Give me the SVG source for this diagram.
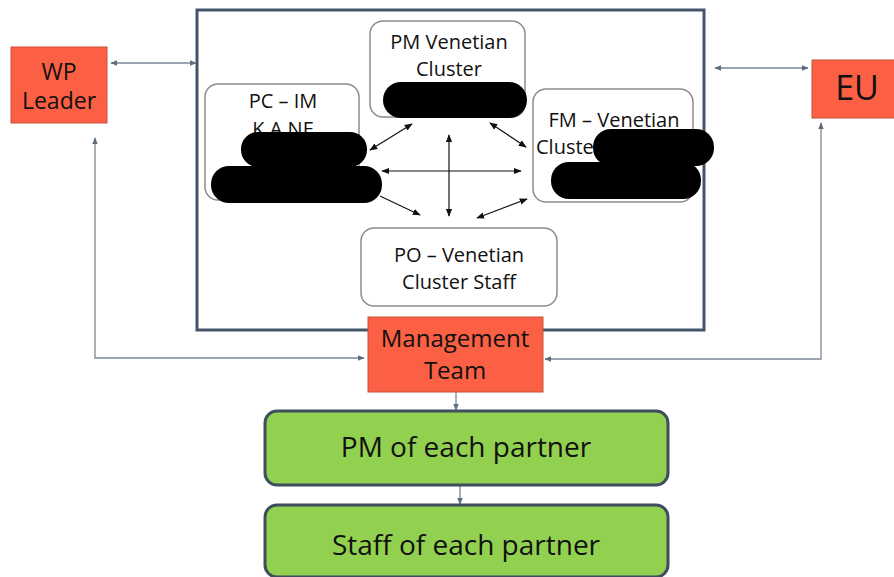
<svg xmlns="http://www.w3.org/2000/svg" width="894" height="577" viewBox="0 0 894 577">
<defs>
<style>
.t{font-family:"Open Sans","Liberation Sans",sans-serif;fill:#111;text-anchor:middle}
.red{fill:#fb5f44;stroke:#c9503c;stroke-width:1}
.grn{fill:#92d050;stroke:#3f4d5e;stroke-width:3}
.wb{fill:#fff;stroke:#8c8c8c;stroke-width:1.5}
.blob{fill:#000}
.gl{stroke:#7b8794;stroke-width:1.3;fill:none}
.bl{stroke:#111;stroke-width:1.2;fill:none}
</style>
<marker id="ga" viewBox="0 0 10 10" refX="9" refY="5" markerWidth="7" markerHeight="7" orient="auto-start-reverse" markerUnits="userSpaceOnUse"><path d="M0,1 L10,5 L0,9 z" fill="#5d6b7a"/></marker>
<marker id="ba" viewBox="0 0 10 10" refX="9" refY="5" markerWidth="8" markerHeight="8" orient="auto-start-reverse" markerUnits="userSpaceOnUse"><path d="M0,1 L10,5 L0,9 z" fill="#111"/></marker>
</defs>
<rect width="894" height="577" fill="#fff"/>
<g id="frame"><rect x="197" y="10" width="507" height="320" fill="#fff" stroke="#44546a" stroke-width="3"/></g>
<g id="connectors">
<line class="gl" x1="111" y1="63" x2="196" y2="63" marker-start="url(#ga)" marker-end="url(#ga)"/>
<line class="gl" x1="715" y1="68" x2="808" y2="68" marker-start="url(#ga)" marker-end="url(#ga)"/>
<polyline class="gl" points="95,138 95,358 364,358" marker-start="url(#ga)" marker-end="url(#ga)"/>
<polyline class="gl" points="821,123 821,359 545,359" marker-start="url(#ga)" marker-end="url(#ga)"/>
<line class="gl" x1="456" y1="392" x2="456" y2="410" marker-end="url(#ga)"/>
<line class="gl" x1="460" y1="486" x2="460" y2="504" marker-end="url(#ga)"/>
<line class="bl" x1="370" y1="150" x2="412" y2="124" marker-start="url(#ba)" marker-end="url(#ba)"/>
<line class="bl" x1="490" y1="123" x2="526" y2="147" marker-start="url(#ba)" marker-end="url(#ba)"/>
<line class="bl" x1="382" y1="171" x2="521" y2="171" marker-start="url(#ba)" marker-end="url(#ba)"/>
<line class="bl" x1="449" y1="135" x2="449" y2="216" marker-start="url(#ba)" marker-end="url(#ba)"/>
<line class="bl" x1="380" y1="196" x2="420" y2="215" marker-end="url(#ba)"/>
<line class="bl" x1="527" y1="199" x2="477" y2="218" marker-start="url(#ba)" marker-end="url(#ba)"/>
</g>
<g id="pm-venetian">
<rect class="wb" x="370" y="21" width="155" height="96" rx="13"/>
<text class="t" x="449" y="49" font-size="20">PM Venetian</text>
<text class="t" x="449" y="76" font-size="20">Cluster</text>
<rect class="blob" x="383" y="82" width="144" height="36" rx="18"/>
</g>
<g id="pc-im">
<rect class="wb" x="205" y="84" width="154" height="116" rx="13"/>
<text class="t" x="283" y="108" font-size="20">PC – IM</text>
<text class="t" x="283" y="136" font-size="20">K.A.NE</text>
<rect class="blob" x="241" y="132" width="126" height="35" rx="17"/>
<rect class="blob" x="211" y="166" width="171" height="37" rx="18"/>
</g>
<g id="fm-venetian">
<rect class="wb" x="533" y="89" width="160" height="113" rx="13"/>
<text class="t" x="614" y="127" font-size="20">FM – Venetian</text>
<text class="t" x="536" y="154" font-size="20" style="text-anchor:start">Cluster</text>
<rect class="blob" x="593" y="129" width="121" height="37" rx="18"/>
<rect class="blob" x="551" y="162" width="150" height="37" rx="18"/>
</g>
<g id="po-venetian">
<rect class="wb" x="361" y="228" width="196" height="78" rx="13"/>
<text class="t" x="459" y="262" font-size="20">PO – Venetian</text>
<text class="t" x="459" y="289" font-size="20">Cluster Staff</text>
</g>
<g id="wp-leader">
<rect class="red" x="11" y="47" width="96" height="76"/>
<text class="t" x="59" y="80" font-size="23">WP</text>
<text class="t" x="59" y="109" font-size="23">Leader</text>
</g>
<g id="eu">
<rect class="red" x="812" y="60" width="85" height="58"/>
<text class="t" x="857" y="100" font-size="34">EU</text>
</g>
<g id="management-team">
<rect class="red" x="368" y="317" width="175" height="75"/>
<text class="t" x="455" y="347" font-size="24">Management</text>
<text class="t" x="455" y="379" font-size="24">Team</text>
</g>
<g id="pm-partner">
<rect class="grn" x="265" y="411" width="403" height="74" rx="12"/>
<text class="t" x="466" y="457" font-size="28">PM of each partner</text>
</g>
<g id="staff-partner">
<rect class="grn" x="265" y="505" width="403" height="72" rx="12"/>
<text class="t" x="466" y="555" font-size="28">Staff of each partner</text>
</g>
</svg>
